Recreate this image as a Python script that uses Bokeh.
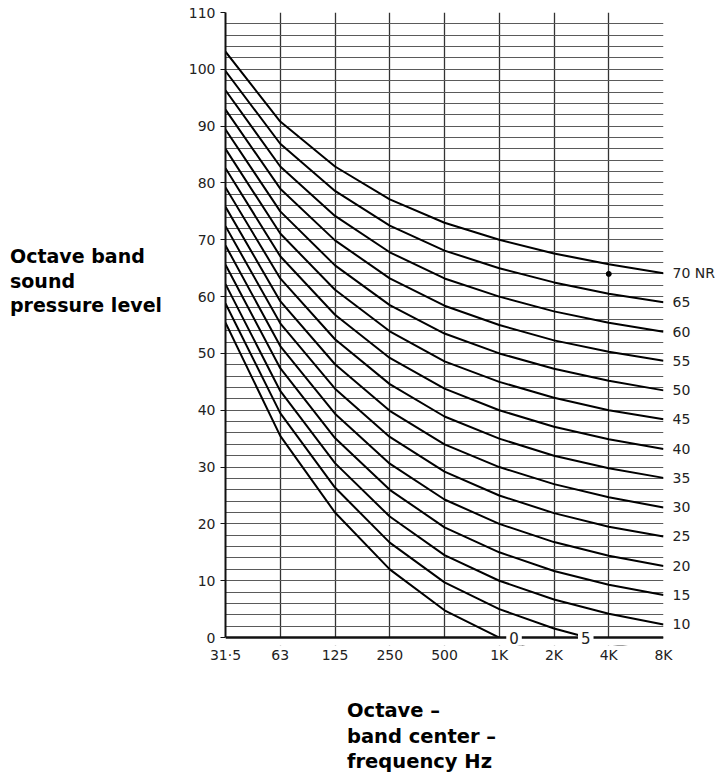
from bokeh.plotting import figure
from bokeh.models import (FixedTicker, Label, Range1d, LinearAxis, Span, Div,
                          BoxAnnotation)
from bokeh.layouts import row, column
from bokeh.embed import file_html
from bokeh.resources import INLINE

# ---- data -------------------------------------------------------------
freq_labels = ["31·5", "63", "125", "250", "500", "1K", "2K", "4K", "8K"]
nr_levels = [0, 5, 10, 15, 20, 25, 30, 35, 40, 45, 50, 55, 60, 65, 70]

nr_0 = [55.4, 35.5, 22.0, 12.0, 4.8, 0.0, -3.5, -6.1, -8.0]
nr_5 = [58.8, 39.5, 26.4, 16.7, 9.7, 5.0, 1.6, -1.0, -2.9]
nr_10 = [62.2, 43.4, 30.7, 21.3, 14.5, 10.0, 6.7, 4.2, 2.3]
nr_15 = [65.6, 47.4, 35.1, 26.0, 19.4, 15.0, 11.7, 9.3, 7.5]
nr_20 = [69.0, 51.3, 39.4, 30.6, 24.3, 20.0, 16.8, 14.4, 12.6]
nr_25 = [72.4, 55.3, 43.8, 35.3, 29.2, 25.0, 21.9, 19.5, 17.8]
nr_30 = [75.8, 59.2, 48.1, 39.9, 34.0, 30.0, 27.0, 24.7, 22.9]
nr_35 = [79.2, 63.2, 52.5, 44.6, 38.9, 35.0, 32.0, 29.8, 28.1]
nr_40 = [82.6, 67.1, 56.8, 49.2, 43.8, 40.0, 37.1, 34.9, 33.2]
nr_45 = [86.0, 71.1, 61.2, 53.9, 48.6, 45.0, 42.2, 40.0, 38.4]
nr_50 = [89.4, 75.0, 65.5, 58.5, 53.5, 50.0, 47.3, 45.2, 43.5]
nr_55 = [92.9, 79.0, 69.9, 63.2, 58.4, 55.0, 52.3, 50.3, 48.7]
nr_60 = [96.3, 82.9, 74.2, 67.8, 63.2, 60.0, 57.4, 55.4, 53.8]
nr_65 = [99.7, 86.9, 78.6, 72.5, 68.1, 65.0, 62.5, 60.5, 59.0]
nr_70 = [103.1, 90.8, 82.9, 77.1, 73.0, 70.0, 67.6, 65.7, 64.1]

curves = [nr_0, nr_5, nr_10, nr_15, nr_20, nr_25, nr_30, nr_35,
          nr_40, nr_45, nr_50, nr_55, nr_60, nr_65, nr_70]

y_ticks = [0, 10, 20, 30, 40, 50, 60, 70, 80, 90, 100, 110]
y_grid_step = 2

# NR 0 and NR 5 are labelled where they run onto the 0 dB line
low_labels = ["0", "5"]
low_label_band = [5.27, 6.58]   # label placement between octave bands

# stray ink dot on the original sheet (4K, ~64 dB)
dot_band = [7]
dot_level = [64.0]

# ---- figure -----------------------------------------------------------
x_idx = list(range(len(freq_labels)))
FONT = "DejaVu Sans"
INK = "#222222"

p = figure(width=563, height=670, output_backend="svg", toolbar_location=None,
           x_range=Range1d(0, len(freq_labels) - 1), y_range=Range1d(-1.4, 110),
           min_border_left=65, min_border_right=60, min_border_top=12,
           min_border_bottom=25, background_fill_color="white",
           border_fill_color="white", margin=(0, 0, 0, 0))
p.outline_line_color = None

# grid
p.xgrid.ticker = FixedTicker(ticks=x_idx)
p.xgrid.grid_line_color = "#333333"
p.xgrid.grid_line_width = 1.3
p.ygrid.ticker = FixedTicker(ticks=list(range(0, 111, y_grid_step)))
p.ygrid.grid_line_color = "#5a5a5a"
p.ygrid.grid_line_width = 1.0

# axes
p.xaxis.ticker = FixedTicker(ticks=x_idx)
p.xaxis.major_label_overrides = {i: lab for i, lab in enumerate(freq_labels)}
p.yaxis.ticker = FixedTicker(ticks=y_ticks)
for ax in (p.xaxis, p.yaxis):
    ax.major_label_text_font = FONT
    ax.major_label_text_font_size = "14px"
    ax.major_label_text_color = INK
    ax.axis_line_color = "#111111"
    ax.major_tick_line_color = "#111111"
    ax.minor_tick_line_color = None
p.xaxis.axis_line_color = None
p.xaxis.major_tick_line_color = None
p.xaxis.major_tick_in = 0
p.xaxis.major_tick_out = 0
p.xaxis.major_label_standoff = 1
p.yaxis.bounds = (0, 110)
p.yaxis.axis_line_width = 2
p.yaxis.major_tick_in = 0
p.yaxis.major_tick_out = 5
p.yaxis.major_label_standoff = 5

# right-hand curve labels, as an axis on the right
ends = [c[-1] for c in curves[2:]]
end_text = [("%d NR" % n) if n == 70 else str(n) for n in nr_levels[2:]]
rax = LinearAxis(ticker=FixedTicker(ticks=ends),
                 major_label_overrides={v: t for v, t in zip(ends, end_text)})
rax.axis_line_color = None
rax.major_tick_line_color = None
rax.minor_tick_line_color = None
rax.major_tick_in = 0
rax.major_tick_out = 0
rax.major_label_standoff = 9
rax.major_label_text_font = FONT
rax.major_label_text_font_size = "14px"
rax.major_label_text_color = INK
p.add_layout(rax, "right")

# curves
for c in curves:
    p.line(x_idx, c, line_color="black", line_width=2)

p.scatter(dot_band, dot_level, size=5, color="black")

# the chart stops at 0 dB: mask the strip below the base line
p.add_layout(BoxAnnotation(top=0, fill_color="white", fill_alpha=1.0,
                           line_color=None))

# heavy 0 dB base line
p.add_layout(Span(location=0, dimension="width", line_color="#111111",
                  line_width=2.5))

# labels of NR 0 / NR 5 interrupting the base line
for t, xb in zip(low_labels, low_label_band):
    p.add_layout(Label(x=xb, y=0, text=t, text_align="center",
                       text_baseline="middle", text_font_size="15px",
                       text_font=FONT, text_color=INK,
                       background_fill_color="white", background_fill_alpha=1.0,
                       padding=3, level="overlay"))

# axis titles (HTML blocks beside / below the plot)
y_title = ["Octave band", "sound", "pressure level"]
x_title = ["Octave –", "band center –", "frequency Hz"]

div_y = Div(text=('<div style="padding-top:244px;padding-left:10px;'
                  'font-family:\'DejaVu Sans\';font-weight:bold;font-size:19px;'
                  'line-height:24.5px;color:#000;white-space:nowrap">'
                  + "<br>".join(y_title) + "</div>"),
            width=160, height=670, margin=(0, 0, 0, 0))

div_x = Div(text=('<div style="padding-top:28px;padding-left:347px;'
                  'font-family:\'DejaVu Sans\';font-weight:bold;font-size:19.5px;'
                  'line-height:25.5px;color:#000;white-space:nowrap">'
                  + "<br>".join(x_title) + "</div>"),
            width=723, height=104, margin=(0, 0, 0, 0))

layout = column(row(div_y, p, spacing=0), div_x, spacing=0)

open("out.html", "w").write(file_html(layout, INLINE))
